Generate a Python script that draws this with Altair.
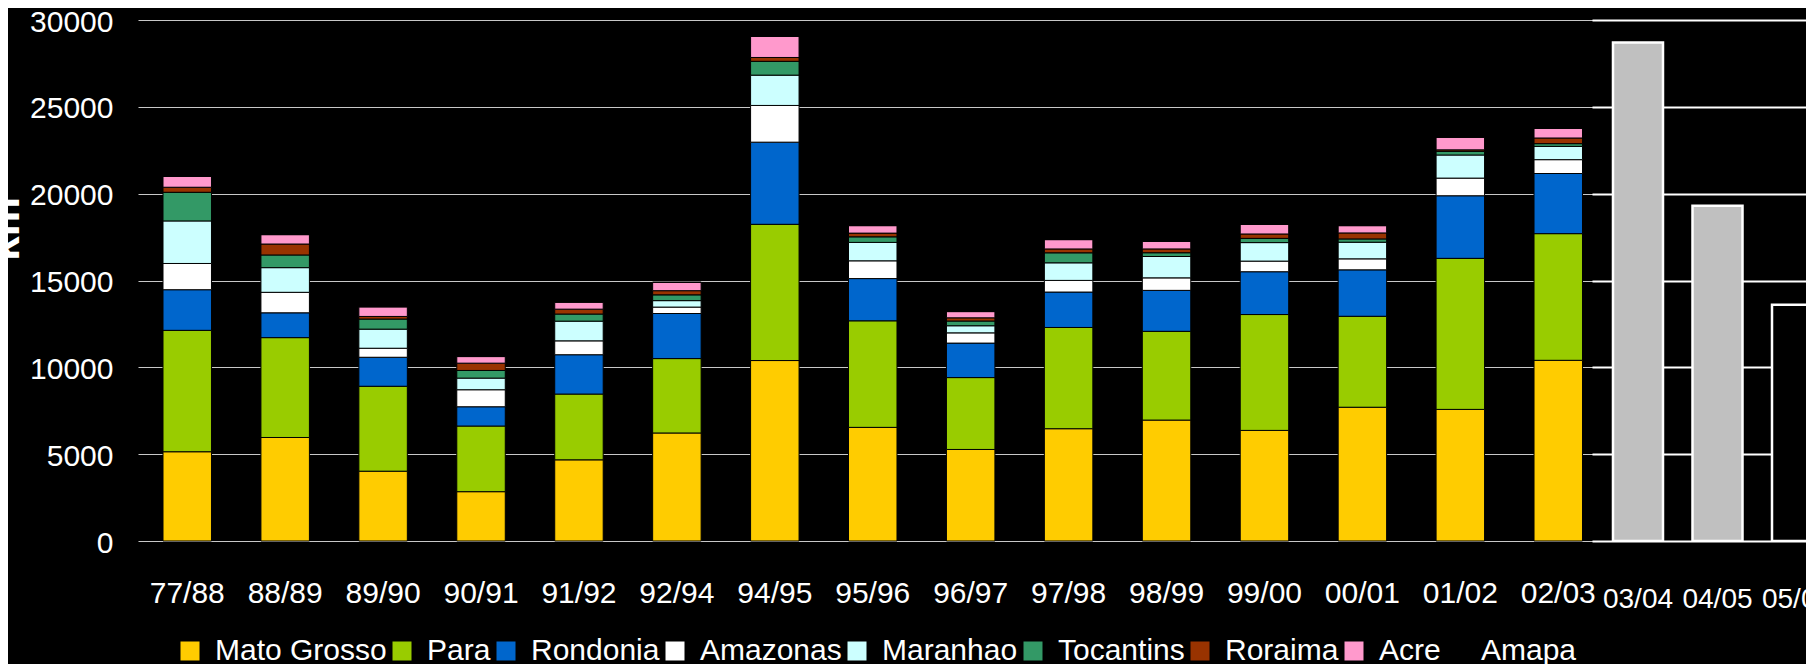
import altair as alt
import pandas as pd

# ---------------- data ----------------
periods = ["77/88", "88/89", "89/90", "90/91", "91/92", "92/94", "94/95", "95/96",
           "96/97", "97/98", "98/99", "99/00", "00/01", "01/02", "02/03"]
states = ["Mato Grosso", "Para", "Rondonia", "Amazonas", "Maranhao",
          "Tocantins", "Roraima", "Acre", "Amapa"]
state_colors = ["#FFCC00", "#99CC00", "#0066CC", "#FFFFFF", "#CCFFFF",
                "#339966", "#993300", "#FF99CC", "#000000"]

mato_grosso = [5140, 5960, 4020, 2840, 4674, 6220, 10391, 6543, 5271, 6466, 6963, 6369, 7703, 7578, 10405]
para        = [6990, 5750, 4890, 3780, 3787, 4284, 7845, 6135, 4139, 5829, 5111, 6671, 5237, 8697, 7293]
rondonia    = [2340, 1430, 1670, 1110, 2265, 2595, 4730, 2432, 1986, 2041, 2358, 2465, 2673, 3605, 3463]
amazonas    = [1510, 1180, 520, 980, 799, 370, 2114, 1023, 589, 670, 720, 612, 634, 1016, 797]
maranhao    = [2450, 1420, 1100, 670, 1135, 372, 1745, 1061, 409, 1012, 1230, 1065, 958, 1330, 766]
tocantins   = [1650, 730, 580, 440, 409, 333, 797, 320, 273, 576, 216, 244, 189, 212, 156]
roraima     = [290, 630, 150, 420, 281, 240, 220, 214, 184, 223, 220, 253, 345, 84, 326]
acre        = [620, 540, 550, 380, 400, 482, 1208, 433, 358, 536, 441, 547, 419, 727, 549]
amapa       = [60, 130, 250, 410, 36, 0, 9, 0, 18, 30, 0, 0, 7, 0, 25]

recent_periods = ["03/04", "04/05", "05/06"]
recent_totals = [28700, 19300, 13600]
recent_kind = ["estimate", "estimate", "projection"]

series = [mato_grosso, para, rondonia, amazonas, maranhao, tocantins, roraima, acre, amapa]

rows = []
for si, (st, vals) in enumerate(zip(states, series)):
    for p, v in zip(periods, vals):
        rows.append({"period": p, "state": st, "value": v, "order": si})
df = pd.DataFrame(rows)

df2 = pd.DataFrame({"period": recent_periods, "value": recent_totals, "kind": recent_kind})

FONT = "Liberation Sans"
tick_values = [0, 5000, 10000, 15000, 20000, 25000, 30000]
y_scale = alt.Scale(domain=[0, 30000], nice=False)

y_axis_left = alt.Axis(
    orient="left",
    title="km²", titleFontSize=44, titleFontWeight="bold", titleColor="white",
    titleFont=FONT, titleAngle=270, titleX=-120, titleY=201,
    titleBaseline="alphabetic", titleAlign="center",
    values=tick_values, format="d",
    labelFontSize=30, labelColor="white", labelFont=FONT, labelPadding=25,
    labelOffset=2,
    ticks=False, domain=False, grid=True, gridColor="#C8C8C8", gridWidth=1.2,
)
y_axis_second = alt.Axis(
    orient="left", title=None, values=tick_values, labels=False,
    ticks=False, domain=False, grid=True, gridColor="#FFFFFF", gridWidth=2,
)

stacked = alt.Chart(df).mark_bar(stroke="black", strokeWidth=1).encode(
    x=alt.X("period:N", sort=periods,
            scale=alt.Scale(domain=periods, range=[0, 1469.5],
                            paddingInner=0.505, paddingOuter=0.2553),
            axis=alt.Axis(orient="bottom", title=None, labelAngle=0, labelFontSize=30,
                          labelFont=FONT, labelColor="white", labelPadding=37,
                          ticks=False, domain=False, grid=False)),
    y=alt.Y("value:Q", stack="zero", scale=y_scale, axis=y_axis_left),
    color=alt.Color("state:N", sort=states,
                    scale=alt.Scale(domain=states, range=state_colors),
                    legend=alt.Legend(
                        title=None, orient="none", direction="horizontal",
                        columns=9, gridAlign="none",
                        legendX=37, legendY=616, padding=0,
                        symbolType="square", symbolSize=361, symbolStrokeWidth=0,
                        labelFontSize=30, labelFont=FONT, labelColor="white",
                        labelOffset=10, columnPadding=0, labelLimit=400)),
    order=alt.Order("order:Q"),
)

recent = alt.Chart(df2).mark_bar(stroke="white", strokeWidth=2.5, clip=True).encode(
    x=alt.X("period:N", sort=recent_periods,
            scale=alt.Scale(domain=recent_periods, range=[1454, 1705],
                            paddingInner=0.371, paddingOuter=0.264),
            axis=alt.Axis(orient="bottom", title=None, labelAngle=0, labelFontSize=28,
                          labelFont=FONT, labelColor="white", labelPadding=44,
                          ticks=False, domain=False, grid=False)),
    y=alt.Y("value:Q", scale=y_scale, axis=y_axis_second),
    fill=alt.Fill("kind:N", scale=alt.Scale(domain=["estimate", "projection"],
                                            range=["#C0C0C0", "#000000"]),
                  legend=None),
)

chart = alt.layer(stacked, recent).resolve_scale(
    x="independent", y="independent", color="independent", fill="independent"
).properties(
    width=1668, height=521,
    autosize=alt.AutoSizeParams(type="none"),
    padding={"left": 130, "top": 12, "right": 0, "bottom": 123},
    background="black",
).configure_view(stroke=None)

chart.save("out.html", embed_options={"renderer": "svg", "actions": False})
